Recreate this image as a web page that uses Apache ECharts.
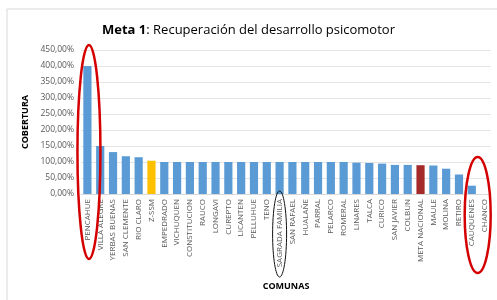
<!DOCTYPE html>
<html><head><meta charset="utf-8">
<script src="https://cdn.jsdelivr.net/npm/echarts@6/dist/echarts.min.js"></script>
<style>html,body{margin:0;padding:0;background:#fff}#c{width:497px;height:300px}</style>
</head><body><div id="c"></div>
<script>
const categories = ["PENCAHUE","VILLA ALEGRE","YERBAS BUENAS","SAN CLEMENTE","RIO CLARO","Z-SSM","EMPEDRADO","VICHUQUEN","CONSTITUCION","RAUCO","LONGAVI","CUREPTO","LICANTEN","PELLUHUE","TENO","SAGRADA FAMILIA","SAN RAFAEL","HUALAÑE","PARRAL","PELARCO","ROMERAL","LINARES","TALCA","CURICO","SAN JAVIER","COLBUN","META NACIONAL","MAULE","MOLINA","RETIRO","CAUQUENES","CHANCO"];
const coverage = [400,150,131,118,115,104,100,100,100,100,100,100,100,100,100,100,100,100,100,100,100,98,97,95,91,91,90,89,79,61,26,0];
const yTicks = [0,50,100,150,200,250,300,350,400,450];
const highlightZSSM = "Z-SSM";
const highlightMeta = "META NACIONAL";

const chart = echarts.init(document.getElementById('c'), null, {renderer:'canvas'});
const font = "'Open Sans', 'Noto Sans', sans-serif";
const barData = coverage.map((v,i)=>{
  let color = '#5b9bd5';
  if (categories[i]===highlightZSSM) color = '#ffc000';
  if (categories[i]===highlightMeta) color = '#a52a2a';
  return {value:v, itemStyle:{color}};
});
const option = {
  animation:false,
  backgroundColor:'#fff',
  title:{
    text:'{b|Meta 1}{n|: Recuperación del desarrollo psicomotor}',
    left:'center', top:19,
    textStyle:{fontWeight:'normal',rich:{
      b:{fontFamily:font,fontSize:13,fontWeight:'bold',color:'#000'},
      n:{fontFamily:font,fontSize:13,fontWeight:'normal',color:'#000'}
    }}
  },
  grid:{left:81,right:6,top:50,bottom:106},
  xAxis:{
    type:'category', data:categories,
    name:'COMUNAS', nameLocation:'middle', nameGap:88,
    nameTextStyle:{fontFamily:font,fontSize:9,fontWeight:'bold',color:'#000'},
    axisLine:{show:true,lineStyle:{color:'#d9d9d9'}},
    axisTick:{show:false},
    axisLabel:{rotate:90,interval:0,fontFamily:font,fontSize:8,color:'#595959',margin:5}
  },
  yAxis:{
    type:'value', min:yTicks[0], max:yTicks[yTicks.length-1], interval:50,
    name:'COBERTURA', nameLocation:'middle', nameGap:45,
    nameTextStyle:{fontFamily:font,fontSize:9,fontWeight:'bold',color:'#000'},
    axisLine:{show:false}, axisTick:{show:false},
    splitLine:{lineStyle:{color:'#e4e4e4'}},
    axisLabel:{fontFamily:font,fontSize:8.5,color:'#595959',margin:7,
      formatter:v=>v.toFixed(2).replace('.',',')+'%'}
  },
  series:[{type:'bar',data:barData,barCategoryGap:'36%'}]
};
chart.setOption(option);

function px(cat,val){ return chart.convertToPixel({gridIndex:0},[cat,val]); }
const p0 = px(categories[0],0);
const pC = px("CAUQUENES",0), pCh = px("CHANCO",0);
const pS = px("SAGRADA FAMILIA",0);
const step = px(categories[1],0)[0]-p0[0];
chart.setOption({graphic:[
  {type:'rect',shape:{x:7,y:9,width:500,height:300},style:{fill:null,stroke:'#d9d9d9',lineWidth:1},silent:true},
  {type:'ellipse',shape:{cx:p0[0]+step*0.12,cy:152,rx:11.5,ry:107},style:{fill:null,stroke:'#d40000',lineWidth:2.5},z:100},
  {type:'ellipse',shape:{cx:(pC[0]+pCh[0])/2-0.5,cy:215,rx:13,ry:58},style:{fill:null,stroke:'#d40000',lineWidth:2.5},z:100},
  {type:'ellipse',shape:{cx:pS[0],cy:234,rx:7,ry:43},style:{fill:null,stroke:'#111',lineWidth:1},z:100}
]});
</script></body></html>
